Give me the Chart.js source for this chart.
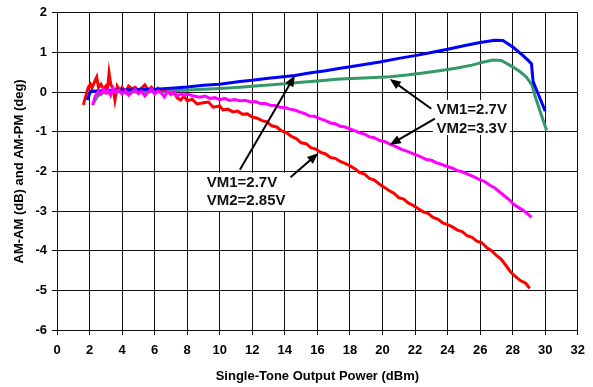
<!DOCTYPE html>
<html>
<head>
<meta charset="utf-8">
<script src="https://cdn.jsdelivr.net/npm/chart.js@4"></script>
<style>
  html, body { margin: 0; padding: 0; background: #fff; }
  #wrap { width: 593px; height: 387px; }
</style>
</head>
<body>
<div id="wrap"><canvas id="grafico"></canvas></div>
<script>
// AM-AM / AM-PM curves vs single-tone output power (dBm)
const xTicks = [0, 2, 4, 6, 8, 10, 12, 14, 16, 18, 20, 22, 24, 26, 28, 30, 32];
const yTicks = [-6, -5, -4, -3, -2, -1, 0, 1, 2];

// VM1=2.7V VM2=2.85V (blue / red)
const blueX = [1.85, 2.07, 2.5, 3, 4, 5, 6.33, 7, 8, 9, 10, 11.24, 12, 13, 14.62, 15.5, 16.5, 17.5, 18.5, 19.84, 21, 22, 23, 24, 25, 26, 26.9, 27.4, 28.03, 28.64, 29.0, 29.16, 29.2, 29.26, 29.6, 30.0];
const blueY = [-0.2, 0.02, 0.03, 0.04, 0.05, 0.06, 0.08, 0.1, 0.13, 0.17, 0.2, 0.27, 0.3, 0.35, 0.42, 0.48, 0.54, 0.61, 0.67, 0.76, 0.85, 0.92, 1.0, 1.08, 1.17, 1.25, 1.31, 1.3, 1.13, 0.92, 0.78, 0.71, 0.5, 0.26, -0.08, -0.48];

const redX = [1.62, 1.8, 1.92, 2.05, 2.15, 2.3, 2.44, 2.55, 2.7, 2.85, 3.0, 3.1, 3.2, 3.3, 3.45, 3.56, 3.7, 3.85, 4.0, 4.2, 4.4, 4.6, 4.8, 5.0, 5.2, 5.4, 5.6, 5.8, 6.0, 6.2, 6.4, 6.6, 6.8, 7.0, 7.2, 7.4, 7.6, 7.8,
    8.0, 8.3, 8.6, 9.0, 9.3, 9.6, 10.0, 10.2, 10.5, 10.8, 11.1, 11.4, 11.7, 12.0, 12.3, 12.6, 12.9, 13.2, 13.5, 13.8, 14.1, 14.4, 14.7, 15.0, 15.3, 15.6, 15.9, 16.2, 16.5, 16.8, 17.1, 17.4, 17.7, 18.0, 18.3, 18.6, 18.9, 19.2, 19.5, 19.84,
    20.1, 20.4, 20.7, 21.0, 21.3, 21.6, 21.9, 22.2, 22.5, 22.8, 23.1, 23.4, 23.7, 24.0, 24.3, 24.6, 24.9, 25.2, 25.5, 25.8, 26.1, 26.4, 26.7, 27.0, 27.3, 27.6, 27.9, 28.2, 28.5, 28.8, 29.05];
const redY = [-0.32, -0.05, 0.12, 0.2, 0.1, 0.25, 0.38, 0.12, 0.2, 0.08, 0.15, 0.05, 0.48, 0.2, 0.1, -0.2, 0.15, 0.05, 0.12, 0.0, 0.15, 0.08, 0.12, 0.05, 0.1, 0.18, 0.05, 0.12, 0.0, 0.1, 0.05, 0.08, 0.0, -0.05, -0.02, -0.15, -0.2, -0.1,
    -0.22, -0.18, -0.3, -0.27, -0.25, -0.38, -0.35, -0.45, -0.43, -0.5, -0.48, -0.56, -0.55, -0.63, -0.66, -0.72, -0.75, -0.85, -0.88, -0.98, -1.02, -1.12, -1.17, -1.28, -1.3, -1.4, -1.44, -1.52, -1.56, -1.65, -1.67, -1.75, -1.8, -1.86, -1.93, -2.03, -2.07, -2.18, -2.22, -2.33,
    -2.4, -2.48, -2.55, -2.66, -2.7, -2.8, -2.86, -2.94, -3.02, -3.06, -3.16, -3.2, -3.3, -3.34, -3.4, -3.48, -3.52, -3.62, -3.66, -3.76, -3.8, -3.92, -4.0, -4.12, -4.22, -4.38, -4.55, -4.66, -4.76, -4.82, -4.95];

// VM1=2.7V VM2=3.3V (green / magenta)
const greenX = [2.2, 2.5, 2.9, 4, 5, 6, 7, 8, 9, 10, 11.24, 12, 13, 14, 15, 16, 17.38, 18.5, 19.84, 20.45, 21.5, 22.5, 23.5, 24.5, 25.5, 26.2, 26.8, 27.3, 28.03, 28.5, 28.85, 29.2, 29.36, 29.7, 30.08];
const greenY = [-0.3, -0.1, 0.0, 0.0, 0.0, 0.01, 0.03, 0.05, 0.07, 0.09, 0.125, 0.15, 0.18, 0.21, 0.25, 0.28, 0.33, 0.35, 0.375, 0.39, 0.43, 0.48, 0.54, 0.6, 0.68, 0.76, 0.81, 0.8, 0.63, 0.5, 0.375, 0.17, -0.08, -0.5, -0.96];

const magX = [2.19, 2.35, 2.54, 2.7, 2.85, 3.0, 3.15, 3.3, 3.45, 3.6, 3.8, 4.0, 4.2, 4.4, 4.6, 4.8, 5.0, 5.2, 5.4, 5.6, 5.8, 6.0, 6.2, 6.4, 6.6, 6.8, 7.0, 7.2, 7.4, 7.6, 7.8,
    8.0, 8.4, 8.78, 9.1, 9.4, 9.7, 10.0, 10.3, 10.6, 10.9, 11.24, 11.6, 11.9, 12.2, 12.5, 12.8, 13.1, 13.4, 13.7, 14.0, 14.3, 14.6, 14.9, 15.2, 15.5, 15.8, 16.15, 16.5, 16.8, 17.1, 17.4, 17.7, 18.0, 18.3, 18.6, 18.9, 19.2, 19.5, 19.84,
    20.15, 20.45, 20.8, 21.2, 21.5, 21.9, 22.3, 22.7, 23.0, 23.3, 23.6, 23.94, 24.3, 24.6, 24.9, 25.3, 25.6, 25.98, 26.3, 26.6, 26.9, 27.2, 27.5, 27.8, 28.1, 28.4, 28.7, 28.95, 29.16];
const magY = [-0.33, -0.1, 0.02, -0.05, 0.08, -0.02, 0.05, -0.08, 0.1, 0.0, 0.05, -0.05, 0.03, -0.08, 0.0, 0.06, -0.04, 0.02, -0.1, 0.0, 0.08, -0.05, 0.03, -0.02, -0.12, 0.02, -0.06, 0.0, -0.1, -0.04, -0.08,
    -0.05, -0.1, -0.13, -0.1, -0.16, -0.14, -0.19, -0.16, -0.21, -0.19, -0.22, -0.21, -0.25, -0.24, -0.29, -0.29, -0.33, -0.34, -0.38, -0.39, -0.43, -0.45, -0.5, -0.54, -0.6, -0.61, -0.67, -0.72, -0.78, -0.8, -0.86, -0.88, -0.93, -0.97, -1.03, -1.06, -1.13, -1.15, -1.22,
    -1.25, -1.31, -1.37, -1.45, -1.49, -1.56, -1.62, -1.7, -1.72, -1.78, -1.82, -1.87, -1.92, -1.98, -2.01, -2.08, -2.13, -2.21, -2.26, -2.35, -2.42, -2.52, -2.62, -2.72, -2.84, -2.92, -3.0, -3.08, -3.16];

// annotation labels
const label1 = ['VM1=2.7V', 'VM2=3.3V'];
const label2 = ['VM1=2.7V', 'VM2=2.85V'];

function pontos(xs, ys) {
    return xs.map((x, i) => ({ x: x, y: ys[i] }));
}

const fonte = '"Liberation Sans", Arial, sans-serif';

// caixas de texto e setas desenhadas sobre o gráfico
const anotacoes = {
    id: 'anotacoes',
    afterDatasetsDraw(chart) {
        const ctx = chart.ctx;
        const sx = chart.scales.x, sy = chart.scales.y;
        const px = v => sx.getPixelForValue(v);
        const py = v => sy.getPixelForValue(v);

        function caixa(x0, x1, y0, y1, linhas, tx, ty1, ty2) {
            ctx.save();
            ctx.fillStyle = '#fff';
            ctx.fillRect(px(x0), py(y0), px(x1) - px(x0), py(y1) - py(y0));
            ctx.fillStyle = '#111';
            ctx.font = 'bold 15px ' + fonte;
            ctx.textBaseline = 'middle';
            ctx.textAlign = 'left';
            ctx.fillText(linhas[0], px(tx), py(ty1));
            ctx.fillText(linhas[1], px(tx), py(ty2));
            ctx.restore();
        }

        function seta(x0, y0, x1, y1) {
            const a = px(x0), b = py(y0), c = px(x1), d = py(y1);
            const ang = Math.atan2(d - b, c - a);
            const len = 11, w = 4.5;
            ctx.save();
            ctx.strokeStyle = '#000';
            ctx.fillStyle = '#000';
            ctx.lineWidth = 2;
            ctx.beginPath();
            ctx.moveTo(a, b);
            ctx.lineTo(c - Math.cos(ang) * len * 0.8, d - Math.sin(ang) * len * 0.8);
            ctx.stroke();
            ctx.beginPath();
            ctx.moveTo(c, d);
            ctx.lineTo(c - Math.cos(ang) * len - Math.sin(ang) * w, d - Math.sin(ang) * len + Math.cos(ang) * w);
            ctx.lineTo(c - Math.cos(ang) * len + Math.sin(ang) * w, d - Math.sin(ang) * len - Math.cos(ang) * w);
            ctx.closePath();
            ctx.fill();
            ctx.restore();
        }

        caixa(23.1, 27.83, -0.2, -1.08, label1, 23.32, -0.45, -0.93);
        caixa(9.1, 14.45, -2.03, -3.0, label2, 9.2, -2.29, -2.75);

        seta(23.0, -0.42, 20.45, 0.33);
        seta(23.22, -0.67, 20.45, -1.33);
        seta(11.24, -1.96, 14.62, 0.42);
        seta(14.35, -2.15, 16.05, -1.54);
    }
};

let grafico = new Chart(document.getElementById('grafico'), {
    type: 'scatter',
    data: {
        datasets: [
            { data: pontos(magX, magY), borderColor: '#ff00ff' },
            { data: pontos(blueX, blueY), borderColor: '#0000ff' },
            { data: pontos(redX, redY), borderColor: '#ff0000' },
            { data: pontos(greenX, greenY), borderColor: '#339966' }
        ].map(d => Object.assign(d, { showLine: true, pointRadius: 0, borderWidth: 3, tension: 0, fill: false }))
    },
    options: {
        responsive: true,
        maintainAspectRatio: false,
        animation: false,
        layout: { padding: { top: 10, right: 15, left: 0, bottom: 0 } },
        plugins: { legend: { display: false }, tooltip: { enabled: false } },
        scales: {
            x: {
                type: 'linear',
                min: 0, max: 32,
                afterBuildTicks: s => { s.ticks = xTicks.map(v => ({ value: v })); },
                afterFit: s => { s.height = 57; },
                grid: { color: '#111', lineWidth: 1, tickLength: 5, tickColor: '#111' },
                border: { color: '#111', width: 1 },
                ticks: { color: '#000', padding: 8, maxRotation: 0, font: { family: fonte, size: 13, weight: 'bold' } },
                title: { display: true, text: 'Single-Tone Output Power (dBm)', color: '#000', padding: { top: 0, bottom: 3 }, font: { family: fonte, size: 13, weight: 'bold' } }
            },
            y: {
                type: 'linear',
                min: -6, max: 2,
                afterBuildTicks: s => { s.ticks = yTicks.map(v => ({ value: v })); },
                afterFit: s => { s.width = 57; },
                grid: { color: '#111', lineWidth: 1, tickLength: 5, tickColor: '#111' },
                border: { color: '#111', width: 1 },
                ticks: { color: '#000', padding: 5, font: { family: fonte, size: 13, weight: 'bold' } },
                title: { display: true, text: 'AM-AM (dB) and AM-PM (deg)', color: '#000', padding: { top: 12, bottom: 0 }, font: { family: fonte, size: 13, weight: 'bold' } }
            }
        }
    },
    plugins: [anotacoes]
});
</script>
</body>
</html>
